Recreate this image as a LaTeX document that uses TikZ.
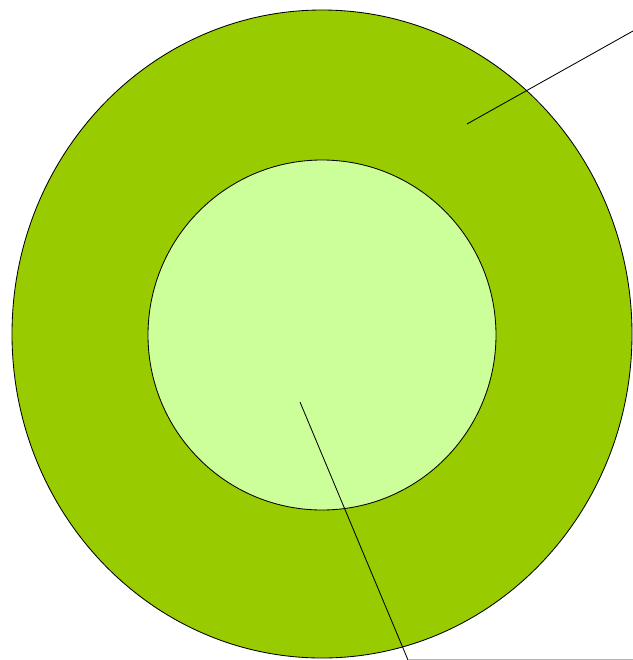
\documentclass[tikz,border=0pt]{standalone}
\usepackage{tikz}
\usetikzlibrary{
  positioning,
  shapes.geometric
}
\definecolor{ringgreen}{RGB}{153, 204, 0}
\definecolor{coregreen}{RGB}{204, 255, 153}

\begin{document}
\begin{tikzpicture}[x=0.025cm, y=-0.025cm]
\useasboundingbox (0,0) rectangle (633,660);
\node[ellipse, draw=black, fill=ringgreen, line width=0.6pt, inner sep=0pt,
      minimum width=620*0.025cm, minimum height=648*0.025cm] (ring) at (322,334) {};
\node[ellipse, draw=black, fill=coregreen, line width=0.6pt, inner sep=0pt,
      minimum width=348*0.025cm, minimum height=350*0.025cm] (core) at (322,335) {};
% leader lines
\coordinate (ringtip) at (467,124);
\coordinate (ringend) at (633,31);
\coordinate (coretip) at (300,402);
\coordinate (coreend) at (408,660);
\draw[line width=0.6pt] (ringtip) -- (ringend);
\draw[line width=0.6pt] (coretip) -- (coreend);
\draw[gray!60, line width=0.8pt] (coreend) -- (633,660);
\end{tikzpicture}
\end{document}
